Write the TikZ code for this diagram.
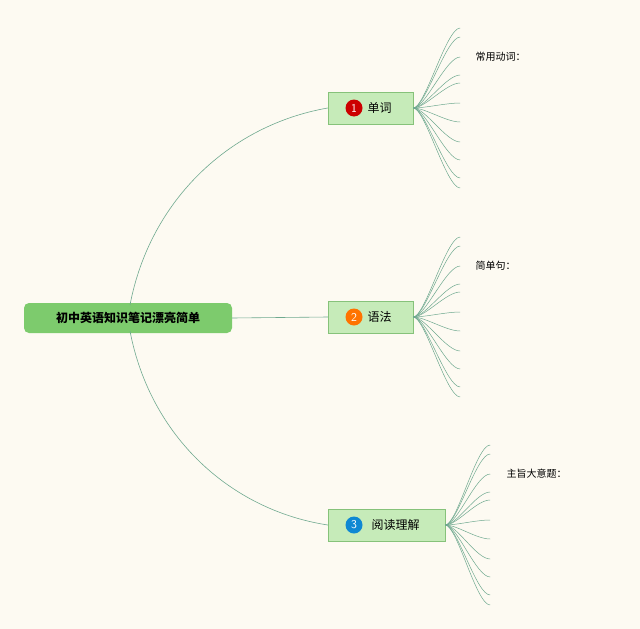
\documentclass[tikz,border=0pt]{standalone}
\usepackage{fontspec}
\newfontfamily\cjk{Noto Sans CJK SC}
\definecolor{bg}{HTML}{FDFAF2}
\definecolor{ln}{HTML}{6FA98F}
\definecolor{sub}{HTML}{C6EBB9}
\definecolor{subd}{HTML}{86C27A}
\definecolor{rootc}{HTML}{7DCB6D}
\begin{document}
\begin{tikzpicture}[x=1pt,y=-1pt,font=\cjk,
  link/.style={draw=ln,line width=0.6pt},
  subbox/.style={draw=subd,fill=sub,minimum height=32pt,inner sep=0pt,font=\cjk\fontsize{12}{14}\selectfont},
  num/.style={circle,fill=#1,text=white,minimum size=17pt,inner sep=0pt,font=\sffamily\fontsize{12}{14}\selectfont},
  lbl/.style={anchor=west,font=\cjk\fontsize{10}{12}\selectfont}]
\fill[bg] (0,0) rectangle (640,629);
\useasboundingbox (0,0) rectangle (640,629);
\node[fill=rootc,rounded corners=5pt,minimum width=208pt,minimum height=30pt,font=\cjk\bfseries\fontsize{12}{14}\selectfont] (root) at (128,318) {初中英语知识笔记漂亮简单};
\node[subbox,minimum width=85pt] (n1) at (370.5,108) {\hspace{18pt}单词};
\node[subbox,minimum width=85pt] (n2) at (370.5,317) {\hspace{18pt}语法};
\node[subbox,minimum width=117pt] (n3) at (386.5,525) {\hspace{18pt}阅读理解};
\node[num=red!80!black] (c1) at (354,108) {1};
\node[num=orange!90!red] (c2) at (354,317) {2};
\node[num=cyan!70!blue] (c3) at (354,525) {3};
\coordinate (o) at (130,318);
\draw[link] (130,305) .. controls (150,200) and (230,125) .. (n1.west);
\draw[link] (130,331) .. controls (150,436) and (230,510) .. (n3.west);
\draw[link] (root.east) -- (n2.west);
\foreach \n/\len in {n1/47,n2/47,n3/45}{
  \foreach \d in {-80,-71,-51,-33,-25,-5,14,34,52,70,80}{
    \draw[link,line width=0.5pt] (\n.east) .. controls +(12,0) and +(-14,0) .. ([shift={(\len,\d)}]\n.east);
  }
}
\node[lbl] (t1) at (472,57) {常用动词：};
\node[lbl] (t2) at (472,266) {简单句：};
\node[lbl] (t3) at (503,474) {主旨大意题：};
\end{tikzpicture}
\end{document}
